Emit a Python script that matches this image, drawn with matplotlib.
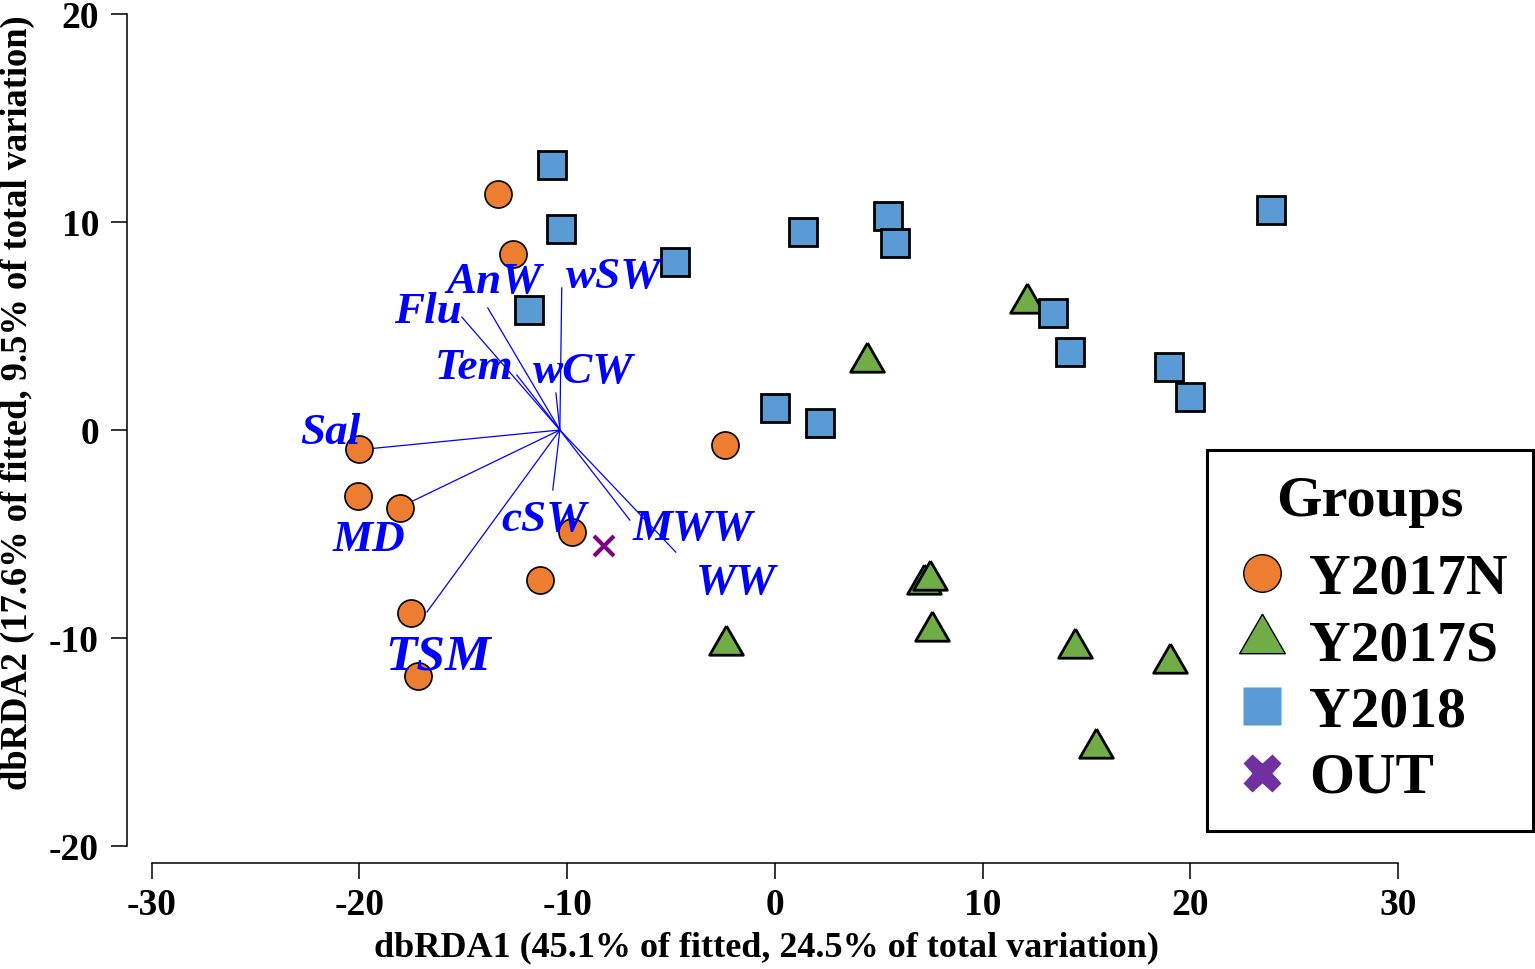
import numpy as np
import matplotlib
matplotlib.use('Agg')
import matplotlib.pyplot as plt
from matplotlib.lines import Line2D

plt.rcParams['font.family'] = ['Liberation Serif', 'DejaVu Serif']
plt.rcParams['font.weight'] = 'bold'
plt.rcParams['axes.unicode_minus'] = False

# sample scores on dbRDA1 / dbRDA2
n17_x = [-13.34, -12.61, -20.03, -20.08, -18.05, -9.77, -11.31, -17.53, -17.19, -2.41]
n17_y = [11.35, 8.46, -0.91, -3.17, -3.75, -4.90, -7.21, -8.80, -11.83, -0.72]

s17_x = [12.13, 4.43, 7.17, 7.46, 7.56, -2.36, 14.44, 19.02, 15.46]
s17_y = [6.11, 3.25, -7.40, -7.21, -9.66, -10.34, -10.48, -11.20, -15.29]

y18_x = [-10.74, -10.30, -11.84, -4.81, 1.35, 5.44, 5.78, 23.88, 13.38, 14.20, 18.97, 19.98, 0.0, 2.17]
y18_y = [12.74, 9.66, 5.77, 8.08, 9.52, 10.29, 8.99, 10.58, 5.63, 3.75, 3.03, 1.59, 1.06, 0.34]

out_x = [-8.23]
out_y = [-5.58]

# environmental vectors
vec_origin = (-10.35, 0.0)
vec_names = ['Sal', 'MD', 'TSM', 'cSW', 'MWW', 'WW', 'wSW', 'wCW', 'Tem', 'Flu', 'AnW']
vec_x = [-19.60, -18.63, -16.75, -10.69, -6.98, -4.77, -10.26, -10.54, -12.42, -15.07, -13.82]
vec_y = [-0.91, -3.99, -8.75, -2.88, -4.33, -5.87, 6.83, 1.78, 2.64, 5.43, 5.87]
lab_x = [-21.38, -19.55, -16.23, -11.12, -3.95, -1.88, -7.75, -9.24, -14.49, -16.71, -13.53]
lab_y = [-0.14, -5.29, -10.96, -4.33, -4.76, -7.36, 7.36, 2.79, 2.98, 5.67, 7.12]
lab_size = {'TSM': 37}

c_orange = '#ED7D31'
c_green = '#70AD47'
c_blue = '#5B9BD5'
c_purple = '#7030A0'

tri = [(0, 1), (-0.866, -0.5), (0.866, -0.5), (0, 1)]

fig = plt.figure(figsize=(15.35, 9.69), dpi=100)
ax = fig.add_axes([151.7 / 1535, 1 - 846 / 969, (1398 - 151.7) / 1535, (846 - 14) / 969])
ax.set_xlim(-30, 30)
ax.set_ylim(-20, 20)

for i in range(len(vec_names)):
    ax.plot([vec_origin[0], vec_x[i]], [vec_origin[1], vec_y[i]], color='blue', lw=0.9, zorder=2)

ax.plot(n17_x, n17_y, 'o', ms=19.5, mfc=c_orange, mec='black', mew=1.2, zorder=3, clip_on=False)
ax.plot(s17_x, s17_y, marker=tri, ls='none', ms=28, mfc=c_green, mec='black', mew=2, zorder=3, clip_on=False)
ax.plot(y18_x, y18_y, 's', ms=19.5, mfc=c_blue, mec='black', mew=2, zorder=3, clip_on=False)
ax.plot(out_x, out_y, 'x', ms=15, color='#800080', mew=3, zorder=3, clip_on=False)

for i, name in enumerate(vec_names):
    ax.text(lab_x[i], lab_y[i], name, color='blue', fontsize=lab_size.get(name, 32.5),
            fontstyle='italic', fontweight='bold', ha='center', va='center', zorder=4)

for side in ['top', 'right']:
    ax.spines[side].set_visible(False)
ax.spines['left'].set_position(('outward', 18))
ax.spines['bottom'].set_position(('outward', 12))
ax.spines['left'].set_linewidth(1.1)
ax.spines['bottom'].set_linewidth(1.1)
ax.set_xticks([-30, -20, -10, 0, 10, 20, 30])
ax.set_yticks([-20, -10, 0, 10, 20])
ax.tick_params(axis='both', length=11.5, width=1.1, labelsize=27)
ax.tick_params(axis='y', pad=8.5)
ax.tick_params(axis='x', pad=6.5)
for lab in ax.get_xticklabels() + ax.get_yticklabels():
    lab.set_fontweight('bold')

fig.text(766 / 1535, 1 - 948 / 969, 'dbRDA1 (45.1% of fitted, 24.5% of total variation)',
         fontsize=26, fontweight='bold', ha='center', va='center')
fig.text(17 / 1535, 1 - 403 / 969, 'dbRDA2 (17.6% of fitted, 9.5% of total variation)',
         fontsize=26.3, fontweight='bold', ha='center', va='center', rotation=90)

handles = [
    Line2D([], [], marker='o', ls='none', ms=27, mfc=c_orange, mec='black', mew=1),
    Line2D([], [], marker=tri, ls='none', ms=38, mfc=c_green, mec='black', mew=1),
    Line2D([], [], marker='s', ls='none', ms=27, mfc=c_blue, mec='none'),
    Line2D([], [], marker='X', ls='none', ms=28, mfc=c_purple, mec='none'),
]
leg = ax.legend(handles, ['Y2017N', 'Y2017S', 'Y2018', 'OUT'], title='Groups',
                loc='upper left', bbox_to_anchor=(1207 / 1535, 1 - 450 / 969),
                bbox_transform=fig.transFigure, borderaxespad=0, fancybox=False,
                framealpha=1, edgecolor='black', title_fontsize=42,
                labelspacing=0.245, handletextpad=0.31, handlelength=1.0,
                borderpad=0.455, prop={'weight': 'bold', 'size': 41.5})
leg.get_frame().set_linewidth(2.2)
leg.get_title().set_fontweight('bold')
leg._legend_box.sep = 18
leg.set_clip_on(False)

fig.savefig('out.png', dpi=100)
